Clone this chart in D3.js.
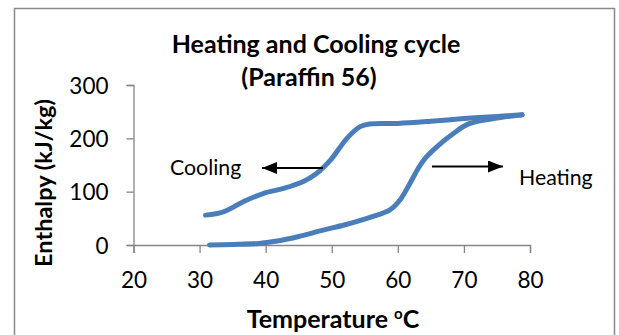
<!DOCTYPE html>
<html>
<head>
<meta charset="utf-8">
<script src="https://cdn.jsdelivr.net/npm/d3@7"></script>
<style>
  html, body { margin: 0; padding: 0; background: #fff; }
  svg { display: block; }
  text { font-family: Lato, "Open Sans", sans-serif; fill: #000; }
</style>
</head>
<body>
<div id="chart"></div>
<script>
// Paraffin 56 enthalpy–temperature cycle
const heatingTemp = [31.5, 35, 39, 42, 45, 48.7, 52, 55.8, 58.8, 60.3, 61.8, 63.1, 64.1, 65.9, 68.4, 70.7, 74.5, 78.8];
const heatingEnthalpy = [0, 1, 3, 8, 16, 28, 38, 52, 66, 84, 115, 144, 162, 184, 209, 227, 237, 244];

const coolingTemp = [78.8, 75, 70, 65, 60, 55.8, 54.3, 52.3, 49.8, 47.7, 45.7, 42.7, 39.7, 36.6, 33.6, 30.9];
const coolingEnthalpy = [244, 241, 237, 232, 228, 227, 222, 200, 159, 134, 119, 106, 97, 81, 62, 56];

const xTicks = [20, 30, 40, 50, 60, 70, 80];
const yTicks = [0, 100, 200, 300];

const W = 619, H = 335;
const svg = d3.select("#chart").append("svg").attr("width", W).attr("height", H);

// chart frame
svg.append("rect")
  .attr("x", 14.5).attr("y", 8.5)
  .attr("width", 600).attr("height", 340)
  .attr("fill", "none").attr("stroke", "#8a8a8a").attr("stroke-width", 1.5);

const x = d3.scaleLinear().domain([20, 80]).range([133.5, 530]);
const y = d3.scaleLinear().domain([0, 300]).range([245, 85]);

const axisColor = "#868686";

// x axis
const gx = svg.append("g").attr("transform", `translate(0,${y(0)})`)
  .call(d3.axisBottom(x).tickValues(xTicks).tickSize(8).tickPadding(19).tickFormat(d3.format("d")));
// y axis
const gy = svg.append("g").attr("transform", `translate(${x(20)},0)`)
  .call(d3.axisLeft(y).tickValues(yTicks).tickSize(7).tickPadding(18).tickFormat(d3.format("d")));

[gx, gy].forEach(g => {
  g.select(".domain").attr("stroke", axisColor).attr("stroke-width", 1.3);
  g.selectAll(".tick line").attr("stroke", axisColor).attr("stroke-width", 1.3);
  g.selectAll(".tick text").style("font-family", "Lato, sans-serif").style("font-size", "22.5px").attr("fill", "#000");
});
gx.selectAll(".tick text").attr("dy", "0.71em");
gy.selectAll(".tick text").attr("dy", "0.36em");

// curves
const line = d3.line()
  .x(d => x(d[0]))
  .y(d => y(d[1]))
  .curve(d3.curveCatmullRom.alpha(0.5));

const heating = heatingTemp.map((t, i) => [t, heatingEnthalpy[i]]);
const cooling = coolingTemp.map((t, i) => [t, coolingEnthalpy[i]]);

[heating, cooling].forEach(series => {
  svg.append("path")
    .datum(series)
    .attr("d", line)
    .attr("fill", "none")
    .attr("stroke", "#4a7ebb")
    .attr("stroke-width", 5)
    .attr("stroke-linecap", "round")
    .attr("stroke-linejoin", "round");
});

// direction arrows
svg.append("defs").append("marker")
  .attr("id", "arrowHead")
  .attr("viewBox", "0 0 15 12")
  .attr("preserveAspectRatio", "none")
  .attr("refX", 15).attr("refY", 6)
  .attr("markerWidth", 15).attr("markerHeight", 12)
  .attr("markerUnits", "userSpaceOnUse")
  .attr("orient", "auto")
  .append("path").attr("d", "M0,0 L15,6 L0,12 Z").attr("fill", "#000");

svg.append("line")
  .attr("x1", 323).attr("y1", 168).attr("x2", 262).attr("y2", 168)
  .attr("stroke", "#000").attr("stroke-width", 2)
  .attr("marker-end", "url(#arrowHead)");
svg.append("line")
  .attr("x1", 432).attr("y1", 166.5).attr("x2", 503).attr("y2", 166.5)
  .attr("stroke", "#000").attr("stroke-width", 2)
  .attr("marker-end", "url(#arrowHead)");

svg.append("text").attr("x", 170).attr("y", 175)
  .style("font-size", "21.3px").text("Cooling");
svg.append("text").attr("x", 519).attr("y", 185)
  .style("font-size", "21.3px").text("Heating");

// title
svg.append("text").attr("x", 316).attr("y", 53).attr("text-anchor", "middle")
  .style("font-size", "25px").style("font-weight", "bold").text("Heating and Cooling cycle");
svg.append("text").attr("x", 309).attr("y", 86).attr("text-anchor", "middle")
  .style("font-size", "25px").style("font-weight", "bold").text("(Paraffin 56)");

// axis titles
svg.append("text")
  .attr("transform", "translate(52,183) rotate(-90)")
  .attr("text-anchor", "middle")
  .style("font-size", "23.5px").style("font-weight", "bold")
  .text("Enthalpy (kJ/kg)");

const xt = svg.append("text").attr("x", 333).attr("y", 328).attr("text-anchor", "middle")
  .style("font-size", "25px").style("font-weight", "bold");
xt.append("tspan").text("Temperature ");
xt.append("tspan").attr("dy", -9).style("font-size", "15px").text("o");
xt.append("tspan").attr("dy", 9).text("C");
</script>
</body>
</html>
